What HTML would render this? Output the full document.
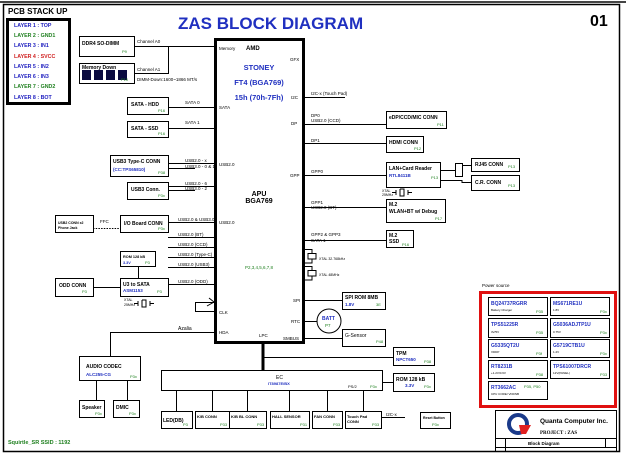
<!DOCTYPE html>
<html><head><meta charset="utf-8"><style>
html,body{margin:0;padding:0;background:#fff}
svg{display:block;font-family:"Liberation Sans",sans-serif}
</style></head><body>
<svg width="626" height="456" viewBox="0 0 626 456" xmlns="http://www.w3.org/2000/svg">
<rect x="0" y="0" width="626" height="456" fill="#fff"/>
<rect x="3.5" y="4.5" width="616" height="447" fill="none" stroke="#000" stroke-width="1.5"/>
<line x1="0" y1="2" x2="626" y2="2" stroke="#444" stroke-width="2"/>
<g fill="none" stroke="#000" stroke-width="1">
<rect x="7.5" y="19.5" width="62" height="84" stroke-width="3"/>
<rect x="215.5" y="39.5" width="88" height="303" stroke-width="3"/>
<rect x="79.5" y="36.5" width="55" height="20"/>
<rect x="79.5" y="63.5" width="55" height="20"/>
<rect x="127.5" y="97.5" width="41" height="17"/>
<rect x="127.5" y="121.5" width="41" height="16"/>
<rect x="110.5" y="155.5" width="58" height="21"/>
<rect x="127.5" y="182.5" width="41" height="17"/>
<rect x="55.5" y="215.5" width="38" height="17"/>
<rect x="120.5" y="215.5" width="48" height="17"/>
<rect x="120.5" y="251.5" width="35" height="15"/>
<rect x="120.5" y="278.5" width="48" height="18"/>
<rect x="55.5" y="278.5" width="38" height="18"/>
<rect x="79.5" y="356.5" width="61" height="24"/>
<rect x="79.5" y="400.5" width="25" height="17"/>
<rect x="113.5" y="400.5" width="26" height="17"/>
<rect x="161.5" y="370.5" width="221" height="20"/>
<rect x="161.5" y="411.5" width="31" height="17"/>
<rect x="195.5" y="411.5" width="34" height="17"/>
<rect x="229.5" y="411.5" width="37" height="17"/>
<rect x="270.5" y="411.5" width="39" height="17"/>
<rect x="312.5" y="411.5" width="30" height="17"/>
<rect x="345.5" y="411.5" width="36" height="17"/>
<rect x="420.5" y="412.5" width="30" height="16"/>
<rect x="393.5" y="347.5" width="41" height="18"/>
<rect x="393.5" y="373.5" width="41" height="18"/>
<rect x="386.5" y="111.5" width="60" height="17"/>
<rect x="386.5" y="136.5" width="37" height="16"/>
<rect x="386.5" y="162.5" width="54" height="25"/>
<rect x="471.5" y="158.5" width="48" height="13"/>
<rect x="471.5" y="175.5" width="48" height="15"/>
<rect x="455.5" y="163.5" width="7" height="13"/>
<rect x="386.5" y="199.5" width="59" height="23"/>
<rect x="386.5" y="230.5" width="27" height="17"/>
<rect x="342.5" y="292.5" width="43" height="17"/>
<circle cx="329" cy="321" r="12"/>
<rect x="342.5" y="329.5" width="43" height="17"/>
<rect x="480.5" y="292.5" width="135" height="114" stroke="#e01010" stroke-width="3"/>
<rect x="488.5" y="297.5" width="59" height="18"/>
<rect x="550.5" y="297.5" width="59" height="18"/>
<rect x="488.5" y="318.5" width="59" height="19"/>
<rect x="550.5" y="318.5" width="59" height="19"/>
<rect x="488.5" y="339.5" width="59" height="18"/>
<rect x="550.5" y="339.5" width="59" height="18"/>
<rect x="488.5" y="360.5" width="59" height="18"/>
<rect x="550.5" y="360.5" width="59" height="18"/>
<rect x="488.5" y="381.5" width="59" height="18"/>
<rect x="495.5" y="410.5" width="121" height="41"/>
<line x1="495" y1="438.5" x2="617" y2="438.5"/>
<line x1="495" y1="447.5" x2="617" y2="447.5"/>
<line x1="505.5" y1="438" x2="505.5" y2="452"/>
<line x1="605.5" y1="438" x2="605.5" y2="448"/>
<path d="M134 46.5H215M134 73.5H168.5V46.5"/>
<path d="M168 107.5H215M168 128.5H215"/>
<path d="M168 163.5H215M168 168.5H195M168 186.5H215M168 190.5H195"/>
<path d="M168 222.5H215M168 237.5H215M168 247.5H215M168 257.5H215M168 267.5H215M168 284.5H215"/>
<path d="M93 228.5H120" stroke-dasharray="1.5 1.2"/>
<path d="M138.5 266V278M93 287.5H120"/>
<path d="M214 311.5H195.5V302.5H214M207 306l7 -4l-5 -4"/>
<path d="M215 332.5H110.5V357M96.5 381V400M127.5 381V400"/>
<path d="M138 301V306M142 300V307H146V300H142M150 301V306M138 303.5H134M150 303.5H154"/>
<path d="M396 190V195M400 189V196H404V189H400M408 190V195M396 192.5H392M408 192.5H412"/>
<path d="M304 249.5H312V253M308 253.5H316V259H308ZM312 259V263H304M304 266.5H312V270M308 270.5H316V276H308ZM312 276V280H304"/>
<path d="M304 97.5H345M304 124.5H386M304 143.5H386M304 175.5H386M440 170.5H455M462 165.5H471M440 180.5H462V182.5H471"/>
<path d="M304 207.5H386M304 240.5H386M304 300.5H342M304 321.5H317M304 338.5H342"/>
<path d="M263.5 357.5H393"/>
<path d="M382 382.5H393M381 417.5H405"/>
<path d="M176.5 390V411M212.5 390V411M247.5 390V411M289.5 390V411M327.5 390V411M363.5 390V411"/>
</g>
<line x1="263" y1="343" x2="263" y2="371" stroke="#000" stroke-width="3"/>
<g fill="#0a0a40"><rect x="82" y="70" width="9" height="10"/><rect x="94" y="70" width="9" height="10"/><rect x="106" y="70" width="9" height="10"/><rect x="118" y="70" width="9" height="10"/></g>
<circle cx="518" cy="424" r="9" fill="none" stroke="#1a3a8a" stroke-width="4"/>
<path d="M519 425h12l-5 9h-5z" fill="#e02020"/>
<text x="8" y="14" font-size="8" font-weight="bold">PCB STACK UP</text>
<g font-size="5.3" font-weight="bold">
<text x="14" y="27" fill="#2020c0">LAYER 1 : TOP</text>
<text x="14" y="37" fill="#208020">LAYER 2 : GND1</text>
<text x="14" y="47" fill="#2020c0">LAYER 3 : IN1</text>
<text x="14" y="58" fill="#d02020">LAYER 4 : SVCC</text>
<text x="14" y="68" fill="#2020c0">LAYER 5 : IN2</text>
<text x="14" y="78" fill="#2020c0">LAYER 6 : IN3</text>
<text x="14" y="88" fill="#208020">LAYER 7 : GND2</text>
<text x="14" y="99" fill="#2020c0">LAYER 8 : BOT</text>
</g>
<text x="178" y="29" font-size="17" font-weight="bold" fill="#2030c0">ZAS BLOCK DIAGRAM</text>
<text x="590" y="26" font-size="16" font-weight="bold">01</text>
<g font-size="4.5">
<text x="219" y="50">Memory</text>
<text x="290" y="61">GFX</text>
<text x="291" y="99">I2C</text>
<text x="291" y="125">DP</text>
<text x="219" y="109">SATA</text>
<text x="219" y="166">USB2.0</text>
<text x="290" y="177">GPP</text>
<text x="219" y="224">USB2.0</text>
<text x="219" y="314">CLK</text>
<text x="219" y="334">HDA</text>
<text x="293" y="302">SPI</text>
<text x="291" y="323">RTC</text>
<text x="259" y="337">LPC</text>
<text x="283" y="340">SMBUS</text>
<text x="137" y="43">Channel A0</text>
<text x="137" y="71">Channel A1</text>
<text x="137" y="81">DIMM-Down:1600~1866 MT/s</text>
<text x="185" y="104">SATA 0</text>
<text x="185" y="124">SATA 1</text>
<text x="185" y="162">USB2.0 - x</text>
<text x="185" y="168">USB3.0 - 0 &amp; 1</text>
<text x="185" y="185">USB2.0 - 6</text>
<text x="185" y="190">USB3.0 - 2</text>
<text x="178" y="221">USB2.0 &amp; USB3.0</text>
<text x="178" y="236">USB2.0 (BT)</text>
<text x="178" y="246">USB2.0 (CCD)</text>
<text x="178" y="256">USB2.0 (Type-C)</text>
<text x="178" y="266">USB2.0 (USB3)</text>
<text x="178" y="283">USB2.0 (ODD)</text>
<text x="100" y="223">FFC</text>
<text x="311" y="95">I2C-x (Touch Pad)</text>
<text x="311" y="117">DP0</text>
<text x="311" y="122">USB2.0 (CCD)</text>
<text x="311" y="142">DP1</text>
<text x="311" y="173">GPP0</text>
<text x="311" y="204">GPP1</text>
<text x="311" y="209">USB2.0 (BT)</text>
<text x="311" y="236">GPP2 &amp; GPP3</text>
<text x="311" y="242">SATA 1</text>
<text x="319" y="260" font-size="3.5">XTAL 32.768kHz</text>
<text x="319" y="276" font-size="3.5">XTAL 48MHz</text>
<text x="124" y="301" font-size="3.5">XTAL</text>
<text x="124" y="306" font-size="3.5">25MHz</text>
<text x="382" y="192" font-size="3.5">XTAL</text>
<text x="382" y="196" font-size="3.5">25MHz</text>
<text x="386" y="416">I2C-x</text>
<text x="482" y="287">Power source</text>
</g>
<text x="178" y="330" font-size="5">Azalia</text>
<text x="246" y="50" font-size="6" font-weight="bold">AMD</text>
<g fill="#2030c0" font-weight="bold" text-anchor="middle" font-size="7.5">
<text x="259" y="70">STONEY</text>
<text x="259" y="85">FT4 (BGA769)</text>
<text x="259" y="100">15h (70h-7Fh)</text>
</g>
<text x="259" y="196" text-anchor="middle" font-size="7" font-weight="bold">APU</text>
<text x="259" y="203" text-anchor="middle" font-size="7" font-weight="bold">BGA769</text>
<text x="259" y="269" text-anchor="middle" font-size="4.5" fill="#208020">P2,3,4,5,6,7,8</text>
<g font-size="5" font-weight="bold">
<text x="82" y="45">DDR4 SO-DIMM</text>
<text x="82" y="69">Memory Down</text>
<text x="131" y="106">SATA - HDD</text>
<text x="131" y="130">SATA - SSD</text>
<text x="113" y="163">USB3 Type-C CONN</text>
<text x="131" y="191">USB3 Conn.</text>
<text x="124" y="225">I/O Board CONN</text>
<text x="58" y="224" font-size="3.5">USB2 CONN x2</text>
<text x="58" y="229" font-size="3.5">Phone Jack</text>
<text x="123" y="258" font-size="3.8">ROM 128 kB</text>
<text x="123" y="286">U3 to SATA</text>
<text x="59" y="287">ODD CONN</text>
<text x="86" y="368">AUDIO CODEC</text>
<text x="82" y="409">Speaker</text>
<text x="116" y="409">DMIC</text>
<text x="276" y="379" font-weight="normal">EC</text>
<text x="163" y="422">LED(DB)</text>
<text x="197" y="418" font-size="4">K/B CONN</text>
<text x="231" y="418" font-size="4">K/B BL CONN</text>
<text x="272" y="418" font-size="4">HALL SENSOR</text>
<text x="314" y="418" font-size="4">FAN CONN</text>
<text x="347" y="418" font-size="4">Touch Pad</text>
<text x="347" y="423" font-size="4">CONN</text>
<text x="423" y="419" font-size="3.5">Reset Button</text>
<text x="396" y="355">TPM</text>
<text x="396" y="381">ROM 128 kB</text>
<text x="389" y="119">eDP/CCD/MIC CONN</text>
<text x="389" y="144">HDMI CONN</text>
<text x="389" y="170">LAN+Card Reader</text>
<text x="475" y="166">RJ45 CONN</text>
<text x="475" y="184">C.R. CONN</text>
<text x="389" y="206">M.2</text>
<text x="389" y="213">WLAN+BT w/ Debug</text>
<text x="389" y="237">M.2</text>
<text x="389" y="243">SSD</text>
<text x="345" y="299">SPI ROM 8MB</text>
<text x="345" y="337" font-weight="normal">G-Sensor</text>
<text x="322" y="320" fill="#2030c0">BATT</text>
<text x="540" y="423" font-size="6.5">Quanta Computer Inc.</text>
<text x="540" y="434" font-size="5" font-family="Liberation Serif,serif">PROJECT  : ZAS</text>
<text x="528" y="445" font-size="4.5">Block Diagram</text>
</g>
<g font-size="4.5" font-weight="bold" fill="#2030c0">
<text x="113" y="171">(CC:TPS65810)</text>
<text x="123" y="292">ASM1153</text>
<text x="123" y="264" font-size="3.8">3.3V</text>
<text x="86" y="376">ALC255-CG</text>
<text x="268" y="385" font-size="4">IT8987E/BX</text>
<text x="396" y="361">NPCT650</text>
<text x="405" y="387">3.3V</text>
<text x="389" y="177">RTL8411B</text>
<text x="345" y="306">1.8V</text>
<text x="325" y="327" fill="#208020" font-weight="normal">P7</text>
</g>
<g font-size="4" fill="#208020">
<text x="122" y="53">P9</text>
<text x="121" y="81">P10</text>
<text x="158" y="112">P16</text>
<text x="158" y="135">P16</text>
<text x="158" y="174">P38</text>
<text x="158" y="197">P3x</text>
<text x="158" y="230">P3x</text>
<text x="145" y="264">P3</text>
<text x="157" y="293">P3</text>
<text x="82" y="293">P3</text>
<text x="130" y="378">P3x</text>
<text x="95" y="415">P3x</text>
<text x="129" y="415">P3x</text>
<text x="183" y="426">P3</text>
<text x="220" y="426">P33</text>
<text x="257" y="426">P33</text>
<text x="300" y="426">P31</text>
<text x="333" y="426">P33</text>
<text x="372" y="426">P33</text>
<text x="432" y="426">P3x</text>
<text x="348" y="388" fill="#000">PS/2</text>
<text x="370" y="388">P3x</text>
<text x="424" y="363">P38</text>
<text x="424" y="388">P3x</text>
<text x="437" y="126">P11</text>
<text x="414" y="150">P12</text>
<text x="431" y="179">P13</text>
<text x="508" y="168">P13</text>
<text x="508" y="187">P13</text>
<text x="435" y="220">P17</text>
<text x="402" y="246">P16</text>
<text x="376" y="306">3E</text>
<text x="376" y="343">P48</text>
</g>
<g font-size="5" fill="#2030c0" font-weight="bold">
<text x="491" y="305">BQ24737RGRR</text>
<text x="553" y="305">MS671RE1U</text>
<text x="491" y="326">TPS51225R</text>
<text x="553" y="326">G5036ADJTP1U</text>
<text x="491" y="347">G5335QT2U</text>
<text x="553" y="347">G5719CTB1U</text>
<text x="491" y="368">RT8231B</text>
<text x="553" y="368">TPS61007DRCR</text>
<text x="491" y="389">RT3662AC</text>
</g>
<g font-size="3" fill="#000">
<text x="491" y="311">Battery Charger</text><text x="553" y="311">1.8V</text>
<text x="491" y="333">3V/5V</text><text x="553" y="333">0.75V</text>
<text x="491" y="353">VDDP</text><text x="553" y="353">1.2V</text>
<text x="491" y="374">+1.2V/0.6V</text><text x="553" y="374">12V(PANEL)</text>
<text x="491" y="395">CPU CORE/ VDDNB</text>
</g>
<g font-size="4" fill="#208020">
<text x="536" y="313">P35</text><text x="600" y="313">P3x</text>
<text x="536" y="334">P35</text><text x="600" y="334">P3x</text>
<text x="536" y="355">P3f</text><text x="600" y="355">P3x</text>
<text x="536" y="376">P38</text><text x="600" y="376">P33</text>
<text x="524" y="388">P35, P50</text>
</g>
<text x="8" y="444" font-size="5.5" font-weight="bold" fill="#208020">Squirtle_SR SSID : 1192</text>
</svg>
</body></html>
